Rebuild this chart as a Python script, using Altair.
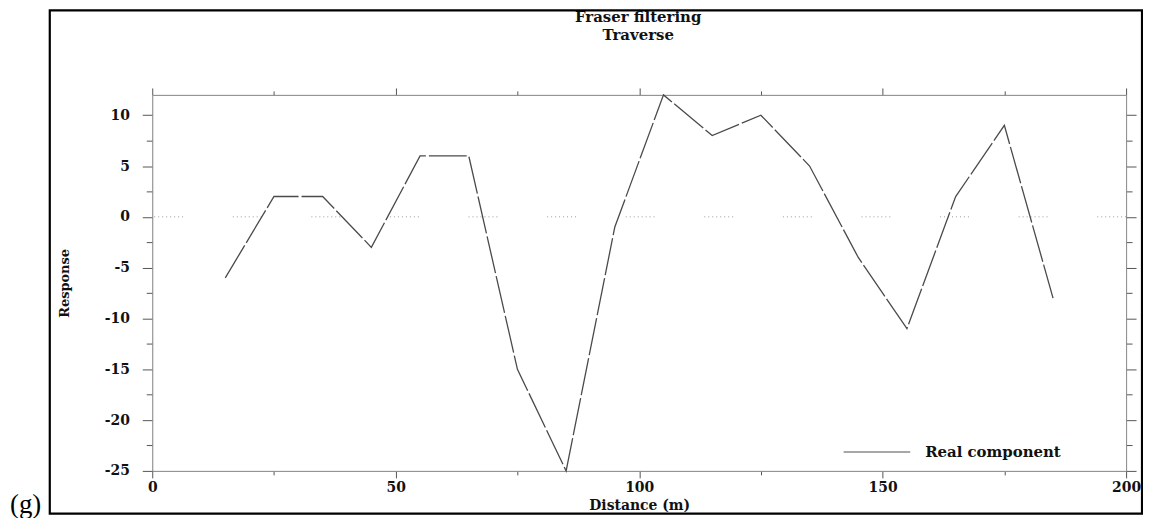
import altair as alt
import pandas as pd

# ---- data ----
distance = [15, 25, 35, 45, 55, 65, 75, 85, 95, 105, 115, 125, 135, 145, 155, 165, 175, 185]
response = [-6, 2, 2, -3, 6, 6, -15, -25, -1, 12, 8, 10, 5, -4, -11, 2, 9, -8]
series_name = "Real component"

x_tick_values = [0, 25, 50, 75, 100, 125, 150, 175, 200]
y_tick_values = [-25, -22.5, -20, -17.5, -15, -12.5, -10, -7.5, -5, -2.5, 0, 2.5, 5, 7.5, 10]
zero_level = [0]

title_lines = ["Fraser filtering", "Traverse"]
x_title = "Distance (m)"
y_title = "Response"
panel_label = "(g)"

df = pd.DataFrame({"distance": distance, "response": response, "series": series_name})
zero_df = pd.DataFrame({"level": zero_level})
legend_df = pd.DataFrame({"label": [series_name]})
panel_df = pd.DataFrame({"label": [panel_label]})
title_df = pd.DataFrame({"label": ["\n".join(title_lines)]})

SERIF_BOLD = "DejaVu Serif"
W, H = 979, 378
AXIS_GREY = "#8a8a8a"
TICK_GREY = "#555555"

x_scale = alt.Scale(domain=[0, 200], nice=False, zero=False)
y_scale = alt.Scale(domain=[-25, 12], nice=False, zero=False)

major_x = {"condition": {"test": "datum.value % 50 === 0", "value": 7}, "value": 4}
major_y = {"condition": {"test": "datum.value % 5 === 0", "value": 10}, "value": 6}

# main line with bottom / left axes
line = alt.Chart(df).mark_line(
    stroke="#4a4a4a", strokeWidth=1.3, strokeDash=[38, 3]
).encode(
    x=alt.X("distance:Q", scale=x_scale, axis=alt.Axis(
        orient="bottom", values=x_tick_values, grid=False,
        labelExpr="datum.value % 50 === 0 ? '' + datum.value : ''",
        labelFont=SERIF_BOLD, labelFontWeight="bold", labelFontSize=14, labelColor="#111",
        labelPadding=3, labelFlush=False,
        tickSize=major_x, tickColor=TICK_GREY, domainColor=AXIS_GREY,
        title=x_title, titleFont=SERIF_BOLD, titleFontWeight="bold", titleFontSize=14,
        titleColor="#111", titleY=28, titleBaseline="top",
    )),
    y=alt.Y("response:Q", scale=y_scale, axis=alt.Axis(
        orient="left", values=y_tick_values, grid=False,
        labelExpr="datum.value % 5 === 0 ? '' + datum.value : ''",
        labelFont=SERIF_BOLD, labelFontWeight="bold", labelFontSize=14, labelColor="#111",
        labelPadding=13, labelFlush=False,
        tickSize=major_y, tickColor=TICK_GREY, domainColor=AXIS_GREY,
        title=y_title, titleFont=SERIF_BOLD, titleFontWeight="bold", titleFontSize=13,
        titleColor="#111", titleAngle=270, titleX=-88, titleY=H / 2,
        titleAlign="center", titleBaseline="middle",
    )),
)

# secondary top / right axes (ticks only)
mirror = alt.Chart(df).mark_point(opacity=0).encode(
    x=alt.X("distance:Q", scale=x_scale, axis=alt.Axis(
        orient="top", values=x_tick_values, labels=False, title=None, grid=False,
        tickSize=major_x, tickColor=TICK_GREY, domainColor=AXIS_GREY,
    )),
    y=alt.Y("response:Q", scale=y_scale, axis=alt.Axis(
        orient="right", values=y_tick_values, labels=False, title=None, grid=False,
        tickSize=major_y, tickColor=TICK_GREY, domainColor=AXIS_GREY,
    )),
)

# dotted zero line
zero_line = alt.Chart(zero_df).mark_rule(
    stroke="#9a9a9a", strokeWidth=1,
    strokeDash=[1, 3, 1, 3, 1, 3, 1, 3, 1, 3, 1, 3, 1, 3, 1, 50],
).encode(y=alt.Y("level:Q", scale=y_scale, axis=None))

# legend (manual)
legend_line = alt.Chart(legend_df).mark_rule(stroke="#8a8a8a", strokeWidth=1.5).encode(
    x=alt.value(695), x2=alt.value(762), y=alt.value(359)
)
legend_text = alt.Chart(legend_df).mark_text(
    align="left", baseline="middle", font=SERIF_BOLD, fontWeight="bold", fontSize=15, color="#111"
).encode(x=alt.value(777), y=alt.value(359), text="label:N")

# title (two lines)
title_text = alt.Chart(title_df).mark_text(
    align="center", baseline="top", font=SERIF_BOLD, fontWeight="bold", fontSize=15,
    lineBreak="\n", lineHeight=18, color="#111"
).encode(x=alt.value(W / 2 - 1), y=alt.value(-85), text="label:N")

# outer frame
frame = alt.Chart(legend_df).mark_rect(
    fill=None, fillOpacity=0, stroke="black", strokeWidth=2.2
).encode(x=alt.value(-103), x2=alt.value(995), y=alt.value(-85), y2=alt.value(421))

# panel label
panel = alt.Chart(panel_df).mark_text(
    align="left", baseline="alphabetic", font="Liberation Serif", fontSize=27, color="black"
).encode(x=alt.value(-143), y=alt.value(420), text="label:N")

chart = alt.layer(
    zero_line, line, mirror, legend_line, legend_text, title_text, frame, panel
).resolve_axis(
    x="independent", y="independent"
).properties(
    width=W, height=H,
    padding={"left": 145, "top": 86, "right": 17, "bottom": 46},
    autosize=alt.AutoSizeParams(type="none"),
).configure_view(stroke=None).configure(background="white")

chart.save("out.html", embed_options={"renderer": "svg", "actions": False})
